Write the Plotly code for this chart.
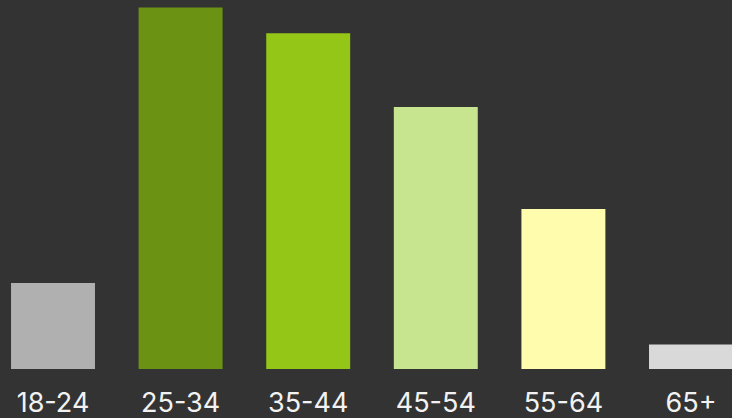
import plotly.graph_objects as go

categories = ["18-24", "25-34", "35-44", "45-54", "55-64", "65+"]
values = [7.0, 29.4, 27.3, 21.3, 13.0, 2.0]
colors = ["#b0b0b0", "#6b9213", "#93c617", "#c7e48e", "#fffcad", "#d9d9d9"]

fig = go.Figure(go.Bar(x=list(range(len(categories))), y=values,
                       marker=dict(color=colors, line=dict(width=0)),
                       hoverinfo="skip"))

fig.update_layout(
    width=732, height=418,
    margin=dict(l=0, r=0, t=0, b=49, pad=0),
    paper_bgcolor="#333333", plot_bgcolor="#333333",
    bargap=0.342,
    showlegend=False,
    font=dict(family="Inter", color="#f2f2f2", size=27),
)
fig.update_xaxes(range=[-0.4154, 5.3213], tickmode="array",
                 tickvals=list(range(len(categories))), ticktext=categories,
                 showgrid=False, zeroline=False, showline=False,
                 ticks="outside", ticklen=10, tickcolor="rgba(0,0,0,0)",
                 tickfont=dict(size=27, color="#f2f2f2", family="Inter"))
fig.update_yaxes(range=[0, 30], visible=False, showgrid=False)

fig.write_html("out.html")
